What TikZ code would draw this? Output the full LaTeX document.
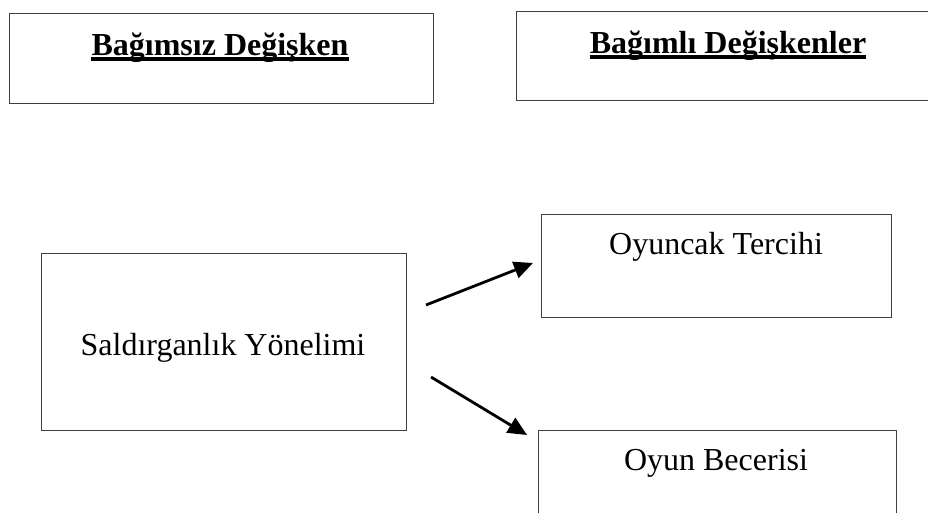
\documentclass[tikz,border=0pt]{standalone}
\usepackage{fontspec}
\setmainfont{Liberation Serif}
\usetikzlibrary{arrows.meta}
\begin{document}
\begin{tikzpicture}[x=1pt,y=-1pt,
    box/.style={draw=black!75,line width=1.2pt,rectangle,inner sep=0pt,anchor=north west},
    txt/.style={inner sep=0pt,anchor=base,font=\fontsize{32}{38}\selectfont},
    head/.style={txt,font=\fontsize{32}{38}\selectfont\bfseries},
    uline/.style={line width=3.6pt},
    arr/.style={line width=2.8pt,-{Triangle[length=19pt,width=17pt]}}]
        \useasboundingbox (0,0) rectangle (928,513);
        \clip (0,0) rectangle (928,513);
        %% Boxes
        \node[box,minimum width=424pt,minimum height=90pt] (indep) at (9,13) {};
        \node[box,minimum width=424pt,minimum height=89pt] (dep) at (516,11) {};
        \node[box,minimum width=365pt,minimum height=177pt] (aggr) at (41,253) {};
        \node[box,minimum width=350pt,minimum height=103pt] (toy) at (541,214) {};
        \node[box,minimum width=358pt,minimum height=110pt] (play) at (538,430) {};
        %% Titles
        \node[head] (indepT) at (220,56) {Bağımsız Değişken};
        \node[head] (depT) at (728,54) {Bağımlı Değişkenler};
        \draw[uline] ([yshift=-3pt]indepT.base west) -- ([yshift=-3pt]indepT.base east);
        \draw[uline] ([yshift=-3pt]depT.base west) -- ([yshift=-3pt]depT.base east);
        %% Variables
        \node[txt] (aggrT) at (223,355) {Saldırganlık Yönelimi};
        \node[txt] (toyT) at (716,254) {Oyuncak Tercihi};
        \node[txt] (playT) at (716,470) {Oyun Becerisi};
        %% Arrows
        \coordinate (a1) at (426,305);
        \coordinate (b1) at (533,263);
        \coordinate (a2) at (431,377);
        \coordinate (b2) at (527,435);
        \draw[arr] (a1) -- (b1);
        \draw[arr] (a2) -- (b2);
    \end{tikzpicture}
\end{document}
